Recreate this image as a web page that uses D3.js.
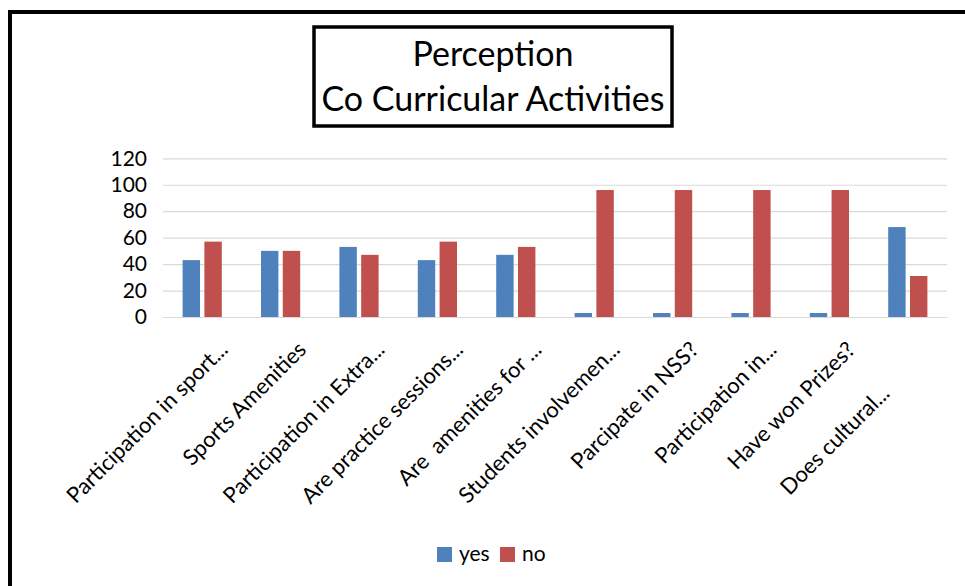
<!DOCTYPE html>
<html>
<head>
<meta charset="utf-8">
<script src="https://cdn.jsdelivr.net/npm/d3@7"></script>
<style>
  html, body { margin: 0; padding: 0; background: #fff; }
  svg { display: block; font-family: Lato, "Open Sans", sans-serif; }
  text { white-space: pre; }
</style>
</head>
<body>
<svg id="chart" width="965" height="586"></svg>
<script>
// ---- data ----
const titleLines = ["Perception", "Co Curricular Activities"];
const categories = [
  "Participation in sport...",
  "Sports Amenities",
  "Participation in Extra...",
  "Are practice sessions...",
  "Are  amenities for ...",
  "Students involvemen...",
  "Parcipate in NSS?",
  "Participation in...",
  "Have won Prizes?",
  "Does cultural...\u00A0\u00A0\u00A0\u00A0\u00A0\u00A0\u00A0\u00A0\u00A0\u00A0\u00A0"
];
const seriesNames = ["yes", "no"];
const yesValues = [43, 50, 53, 43, 47, 3, 3, 3, 3, 68];
const noValues  = [57, 50, 47, 57, 53, 96, 96, 96, 96, 31];
const yTicks = [0, 20, 40, 60, 80, 100, 120];
const colors = ["#4F81BD", "#C0504D"];

const seriesValues = [yesValues, noValues];

const svg = d3.select("#chart");

// outer frame
svg.append("rect")
  .attr("x", 10).attr("y", 12)
  .attr("width", 1000).attr("height", 700)
  .attr("fill", "#fff").attr("stroke", "#000").attr("stroke-width", 4);

// title box
svg.append("rect")
  .attr("x", 314).attr("y", 27)
  .attr("width", 358).attr("height", 99)
  .attr("fill", "#fff").attr("stroke", "#000").attr("stroke-width", 3.5);

svg.append("g").selectAll("text").data(titleLines).join("text")
  .attr("x", 493)
  .attr("y", (d, i) => 66 + i * 45)
  .attr("text-anchor", "middle")
  .attr("font-size", 34)
  .attr("fill", "#000")
  .text(d => d);

// scales
const x0 = d3.scaleBand().domain(categories).range([163, 947]).padding(0);
const x1 = d3.scaleBand().domain(seriesNames).range([0, x0.bandwidth()])
  .paddingInner(0.2).paddingOuter(0.9);
const y = d3.scaleLinear().domain([0, 120]).range([317, 158.3]);

// gridlines
const grid = svg.append("g")
  .attr("transform", "translate(163,0)")
  .call(d3.axisLeft(y).tickValues(yTicks).tickSize(-(947 - 163)).tickFormat(""));
grid.select(".domain").remove();
grid.selectAll("line").attr("stroke", "#d9d9d9").attr("stroke-width", 1.2);

// y tick labels
const yAxis = svg.append("g")
  .attr("transform", "translate(163,0)")
  .call(d3.axisLeft(y).tickValues(yTicks).tickSize(0).tickPadding(16));
yAxis.select(".domain").remove();
yAxis.selectAll("text")
  .attr("font-family", "Lato, 'Open Sans', sans-serif")
  .attr("font-size", 21)
  .attr("fill", "#000");

// bars
const groups = svg.append("g").selectAll("g").data(categories).join("g")
  .attr("transform", d => `translate(${x0(d)},0)`);
groups.selectAll("rect")
  .data((d, i) => seriesNames.map((s, j) => ({ s, v: seriesValues[j][i], c: colors[j] })))
  .join("rect")
  .attr("x", d => x1(d.s))
  .attr("width", x1.bandwidth())
  .attr("y", d => y(d.v))
  .attr("height", d => y(0) - y(d.v))
  .attr("fill", d => d.c);

// x axis
const xAxis = svg.append("g")
  .attr("transform", `translate(0,${y(0)})`)
  .call(d3.axisBottom(x0).tickSize(0).tickPadding(0));
xAxis.select(".domain").attr("stroke", "#d9d9d9").attr("stroke-width", 1.2);
xAxis.selectAll(".tick text")
  .attr("font-family", "Lato, 'Open Sans', sans-serif")
  .attr("font-size", 22)
  .attr("fill", "#000")
  .attr("text-anchor", "end")
  .attr("dy", null)
  .attr("y", null)
  .attr("transform", "translate(27,34) rotate(-45)");

// legend
const legend = svg.append("g").attr("transform", "translate(437,547)");
const li = legend.selectAll("g").data(seriesNames).join("g")
  .attr("transform", (d, i) => `translate(${i * 63},0)`);
li.append("rect").attr("width", 15).attr("height", 15).attr("fill", (d, i) => colors[i]);
li.append("text").attr("x", 22).attr("y", 14).attr("font-size", 21).attr("fill", "#000").text(d => d);
</script>
</body>
</html>
